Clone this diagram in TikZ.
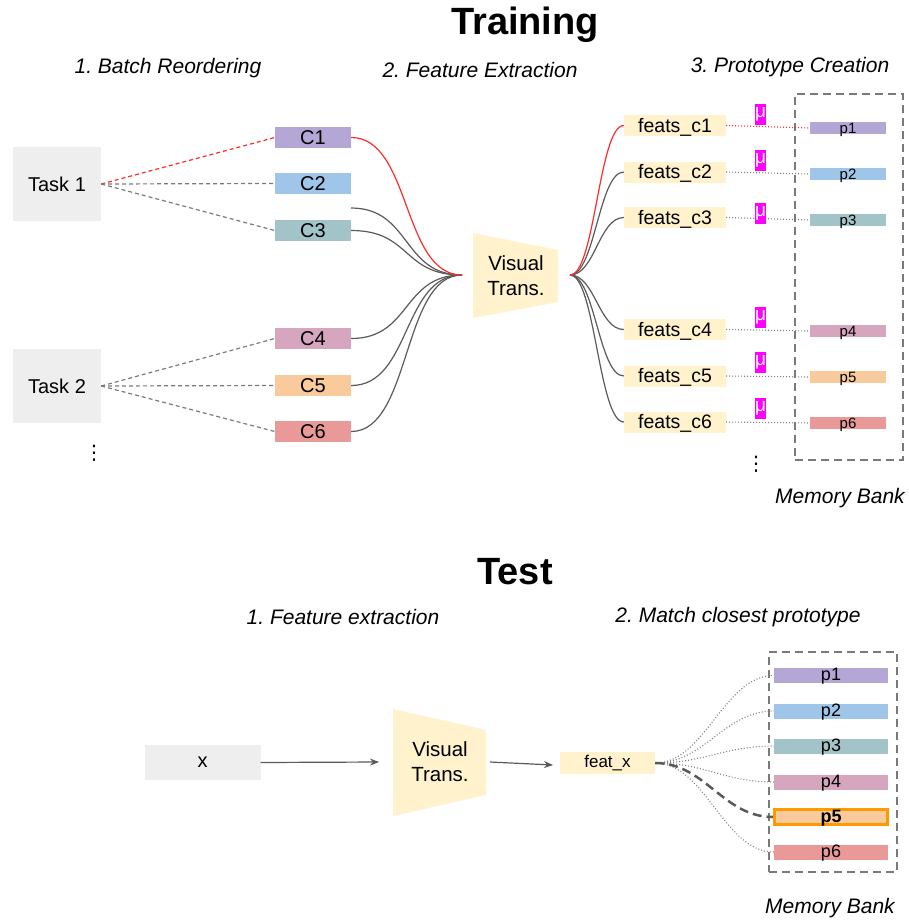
\documentclass[tikz,border=0pt]{standalone}
\usepackage{fontspec}
\setmainfont{Liberation Sans}
\newfontfamily\djv{DejaVu Sans}
\usetikzlibrary{arrows.meta}
\frenchspacing
\definecolor{cA}{HTML}{B4A7D6}
\definecolor{cB}{HTML}{9FC5E8}
\definecolor{cC}{HTML}{A2C4C9}
\definecolor{cD}{HTML}{D5A6BD}
\definecolor{cE}{HTML}{F9CB9C}
\definecolor{cF}{HTML}{EA9999}
\definecolor{featc}{HTML}{FFF2CC}
\definecolor{taskc}{HTML}{EEEEEE}
\definecolor{redl}{HTML}{FF2A2A}
\definecolor{grayl}{HTML}{5A5A5A}
\definecolor{dotl}{HTML}{808080}
\definecolor{boxl}{HTML}{7A7A7A}
\definecolor{mag}{HTML}{FF00FF}
\definecolor{orng}{HTML}{FF9900}
\begin{document}
\begin{tikzpicture}[x=1pt,y=-1pt,
  title/.style={font=\fontsize{38}{44}\selectfont\bfseries},
  stage/.style={font=\fontsize{21}{25}\selectfont\itshape},
  taskbox/.style={fill=taskc, minimum width=88pt, minimum height=74pt, inner sep=0pt, font=\fontsize{20}{24}\selectfont},
  cbox/.style={fill=#1, minimum width=76pt, text height=14pt, text depth=0pt, inner ysep=3.5pt, inner xsep=0pt, font=\fontsize{20}{24}\selectfont},
  fbox/.style={fill=featc, minimum width=102pt, text height=14.5pt, text depth=1pt, inner ysep=2.75pt, inner xsep=0pt, font=\fontsize{19.5}{24}\selectfont},
  pbox/.style={fill=#1, minimum width=76pt, text height=10.5pt, text depth=0.5pt, inner ysep=0.5pt, inner xsep=0pt, font=\fontsize{15}{18}\selectfont},
  tpbox/.style={fill=#1, minimum width=114pt, text height=12pt, text depth=2pt, inner ysep=0.5pt, inner xsep=0pt, font=\fontsize{18}{21}\selectfont},
  mubox/.style={fill=mag, text=white, minimum width=11pt, minimum height=21pt, inner sep=0pt, font=\fontsize{19}{21}\selectfont},
  membank/.style={draw=boxl, line width=2pt, dash pattern=on 8pt off 5pt},
  vtfill/.style={fill=featc},
  vttext/.style={align=center, font=\fontsize{20.5}{25}\selectfont},
  reddash/.style={draw=redl, line width=1.2pt, dash pattern=on 4pt off 3pt},
  graydash/.style={draw=grayl!80, line width=1.2pt, dash pattern=on 4pt off 3pt},
  redcurve/.style={draw=redl, line width=1.2pt},
  graycurve/.style={draw=grayl, line width=1.2pt},
  reddot/.style={draw=redl, line width=1.1pt, dash pattern=on 1pt off 2pt},
  graydot/.style={draw=dotl, line width=1.1pt, dash pattern=on 1pt off 2pt},
  arr/.style={draw=grayl, line width=1.2pt, -{Stealth[length=9pt,width=7pt]}},
  vdots/.style={font=\djv\fontsize{20}{22}\selectfont}
]
\useasboundingbox (0,0) rectangle (909,922);

% ---------- Training ----------
\node[title] (ttrain) at (525,25) {Training};
\node[stage] (s1) at (168,68) {1. Batch Reordering};
\node[stage] (s2) at (480,70) {2. Feature Extraction};
\node[stage] (s3) at (790,67) {3. Prototype Creation};

\node[taskbox] (t1) at (57,184) {Task 1};
\node[taskbox] (t2) at (57,386) {Task 2};
\node[vdots] (vd1) at (94,453) {⋮};

\node[cbox=cA] (c1) at (313,137.5) {C1};
\node[cbox=cB] (c2) at (313,183.5) {C2};
\node[cbox=cC] (c3) at (313,230.5) {C3};
\node[cbox=cD] (c4) at (313,338.5) {C4};
\node[cbox=cE] (c5) at (313,385.5) {C5};
\node[cbox=cF] (c6) at (313,431.5) {C6};

\draw[reddash] (t1.east) -- (c1.west);
\draw[graydash] (t1.east) -- (c2.west);
\draw[graydash] (t1.east) -- (c3.west);
\draw[graydash] (t2.east) -- (c4.west);
\draw[graydash] (t2.east) -- (c5.west);
\draw[graydash] (t2.east) -- (c6.west);

% Visual transformer 1
\fill[vtfill] (473,233) -- (558,250) -- (558,302) -- (473,318) -- cycle;
\node[vttext] (vt1) at (516,276) {Visual\\Trans.};
\coordinate (lconv) at (462,275);
\coordinate (rconv) at (570,275);
\coordinate (c3b) at (351,208);

\draw[graycurve] (c3b) .. controls +(60,0) and +(-60,0) .. (lconv);
\draw[graycurve] (c3.east) .. controls +(60,0) and +(-60,0) .. (lconv);
\draw[graycurve] (c4.east) .. controls +(60,0) and +(-60,0) .. (lconv);
\draw[graycurve] (c5.east) .. controls +(60,0) and +(-60,0) .. (lconv);
\draw[graycurve] (c6.east) .. controls +(60,0) and +(-60,0) .. (lconv);
\draw[redcurve] (c1.east) .. controls +(60,0) and +(-60,0) .. (lconv);

\node[fbox] (f1) at (675,125.5) {feats\_c1};
\node[fbox] (f2) at (675,172) {feats\_c2};
\node[fbox] (f3) at (675,217.5) {feats\_c3};
\node[fbox] (f4) at (675,329.5) {feats\_c4};
\node[fbox] (f5) at (675,376) {feats\_c5};
\node[fbox] (f6) at (675,422) {feats\_c6};

\draw[graycurve] (rconv) .. controls +(25,0) and +(-25,0) .. (f2.west);
\draw[graycurve] (rconv) .. controls +(25,0) and +(-25,0) .. (f3.west);
\draw[graycurve] (rconv) .. controls +(25,0) and +(-25,0) .. (f4.west);
\draw[graycurve] (rconv) .. controls +(25,0) and +(-25,0) .. (f5.west);
\draw[graycurve] (rconv) .. controls +(25,0) and +(-25,0) .. (f6.west);
\draw[redcurve] (rconv) .. controls +(25,0) and +(-25,0) .. (f1.west);

\node[membank, minimum width=108pt, minimum height=366pt, inner sep=0pt] (mb1) at (849,276.5) {};

\node[pbox=cA] (p1) at (848,128) {p1};
\node[pbox=cB] (p2) at (848,174) {p2};
\node[pbox=cC] (p3) at (848,220) {p3};
\node[pbox=cD] (p4) at (848,331) {p4};
\node[pbox=cE] (p5) at (848,377) {p5};
\node[pbox=cF] (p6) at (848,423) {p6};

\draw[reddot] (f1.east) -- (p1.west);
\draw[graydot] (f2.east) -- (p2.west);
\draw[graydot] (f3.east) -- (p3.west);
\draw[graydot] (f4.east) -- (p4.west);
\draw[graydot] (f5.east) -- (p5.west);
\draw[graydot] (f6.east) -- (p6.west);

\node[mubox] (m1) at (760.5,114.5) {μ};
\node[mubox] (m2) at (760.5,160) {μ};
\node[mubox] (m3) at (760.5,213) {μ};
\node[mubox] (m4) at (760.5,317.5) {μ};
\node[mubox] (m5) at (760.5,362.5) {μ};
\node[mubox] (m6) at (760.5,408) {μ};

\node[vdots] (vd2) at (756,464) {⋮};
\node[stage] (mbl1) at (840,498) {Memory Bank};

% ---------- Test ----------
\node[title] (ttest) at (515,572) {Test};
\node[stage] (s4) at (343,617) {1. Feature extraction};
\node[stage] (s5) at (738,617) {2. Match closest prototype};

\node[fill=taskc, minimum width=116pt, minimum height=35pt, inner sep=0pt, font=\fontsize{20}{24}\selectfont] (xn) at (202.5,762.5) {x};

\fill[vtfill] (393,709) -- (486,730) -- (486,795) -- (393,816) -- cycle;
\node[vttext] (vt2) at (440,762) {Visual\\Trans.};
\coordinate (vt2in) at (379,762);
\coordinate (vt2out) at (490,762);

\node[fill=featc, minimum width=95pt, minimum height=22pt, inner sep=0pt, font=\fontsize{17}{20}\selectfont] (fx) at (607.5,763) {feat\_x};
\coordinate (fxin) at (553,765);

\draw[arr] (xn.east) -- (vt2in);
\draw[arr] (vt2out) -- (fxin);

\node[membank, minimum width=128pt, minimum height=220pt, inner sep=0pt] (mb2) at (833,762) {};

\node[tpbox=cA] (q1) at (831,675.5) {p1};
\node[tpbox=cB] (q2) at (831,711) {p2};
\node[tpbox=cC] (q3) at (831,746) {p3};
\node[tpbox=cD] (q4) at (831,782) {p4};
\node[tpbox=cE, draw=orng, line width=3pt, minimum width=113pt, text height=12pt, text depth=2pt, font=\fontsize{18}{21}\selectfont\bfseries] (q5) at (831,817) {p5};
\node[tpbox=cF] (q6) at (831,852) {p6};

\draw[graydot] (fx.east) .. controls +(50,0) and +(-50,0) .. (q1.west);
\draw[graydot] (fx.east) .. controls +(50,0) and +(-50,0) .. (q2.west);
\draw[graydot] (fx.east) .. controls +(50,0) and +(-50,0) .. (q3.west);
\draw[graydot] (fx.east) .. controls +(50,0) and +(-50,0) .. (q4.west);
\draw[graydot] (fx.east) .. controls +(50,0) and +(-50,0) .. (q6.west);
\draw[draw=grayl, line width=2.5pt, dash pattern=on 9pt off 5pt] (fx.east) .. controls +(50,0) and +(-50,0) .. (q5.west);

\node[stage] (mbl2) at (830,908) {Memory Bank};
\end{tikzpicture}
\end{document}
